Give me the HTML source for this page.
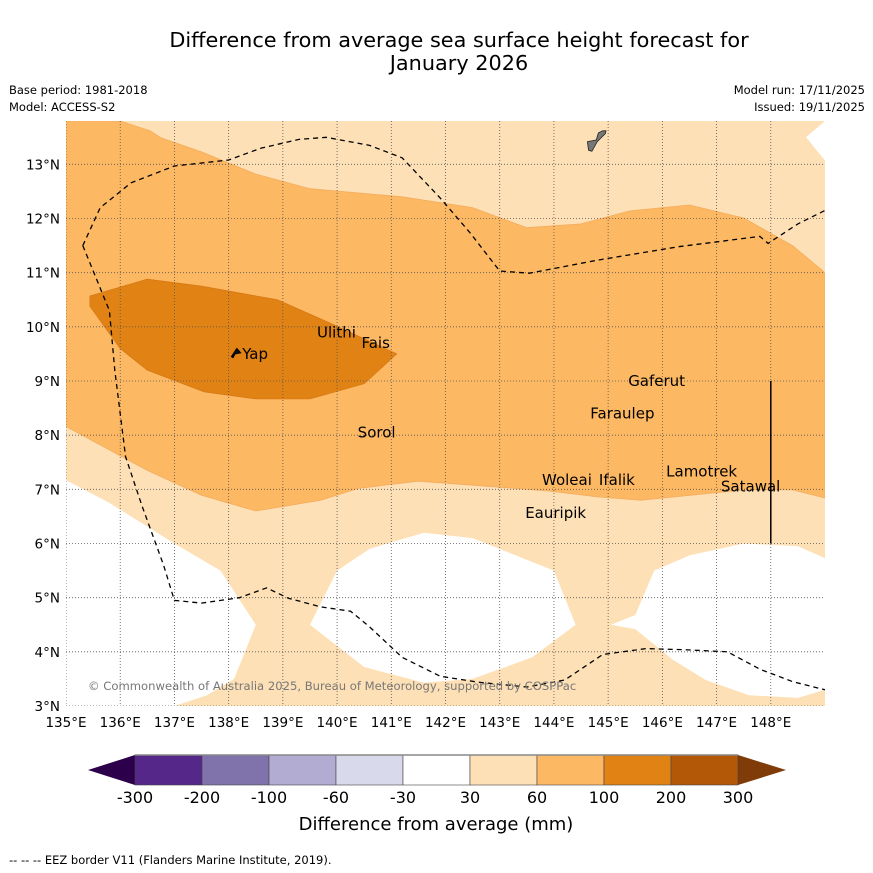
<!DOCTYPE html>
<html><head><meta charset="utf-8"><style>
body{margin:0;background:#fff;font-family:"Liberation Sans","DejaVu Sans",sans-serif;}
#wrap{position:relative;width:873px;height:873px;overflow:hidden;background:#fff}
.t{position:absolute;white-space:nowrap}
</style></head><body>
<div id="wrap">
<div class="t" style="left:0;width:918px;top:29px;text-align:center;font-size:20.8px;line-height:23px;font-family:'DejaVu Sans',sans-serif">Difference from average sea surface height forecast for<br>January 2026</div>
<div class="t" style="left:9px;top:83px;font-size:11.5px;font-family:'DejaVu Sans',sans-serif">Base period: 1981-2018</div>
<div class="t" style="left:9px;top:100px;font-size:11.5px;font-family:'DejaVu Sans',sans-serif">Model: ACCESS-S2</div>
<div class="t" style="right:8px;top:83px;font-size:11.5px;font-family:'DejaVu Sans',sans-serif">Model run: 17/11/2025</div>
<div class="t" style="right:8px;top:100px;font-size:11.5px;font-family:'DejaVu Sans',sans-serif">Issued: 19/11/2025</div>
<div class="t" style="left:9px;top:853px;font-size:11.5px;font-family:'DejaVu Sans',sans-serif">--  --  -- EEZ border V11 (Flanders Marine Institute, 2019).</div>
<svg id="svg" width="873" height="873" style="position:absolute;left:0;top:0" font-family="DejaVu Sans, sans-serif"></svg>
</div>
<script>
const lonTicks=[135,136,137,138,139,140,141,142,143,144,145,146,147,148];
const latTicks=[3,4,5,6,7,8,9,10,11,12,13];
const cbBounds=[-300,-200,-100,-60,-30,30,60,100,200,300];
const cbColors=['#542788','#8073ac','#b2abd2','#d8daeb','#ffffff','#fee0b6','#fdb863','#e08214','#b35806'];
const cbLow='#2d004b', cbHigh='#7f3b08';
const mediumZone=[[135,13.8],[136,13.8],[136.55,13.62],[136.75,13.49],[137.5,13.23],[138.5,12.82],[139.5,12.55],[141.2,12.4],[142.5,12.2],[143.5,11.83],[144.5,11.9],[145.4,12.14],[146.5,12.25],[147.5,12.01],[148.4,11.5],[149,11.0],[149,6.84],[148.4,6.99],[147.5,6.99],[146.6,6.9],[145.6,6.8],[144.8,6.86],[143.9,6.97],[143,7.04],[141.5,7.15],[140.4,7.02],[139.7,6.8],[138.5,6.6],[137.5,6.89],[136.5,7.35],[135,8.16]];
const highZone=[[135.44,10.57],[136.5,10.88],[137.5,10.75],[138.9,10.5],[139.8,10.1],[141.1,9.5],[140.5,8.95],[139.5,8.67],[138.5,8.67],[137.55,8.8],[136.5,9.2],[136,9.6],[135.44,10.38]];
const whiteZones=[
[[135,7.17],[135.8,6.75],[137,6.0],[137.85,5.5],[138.5,4.5],[138.1,3.5],[137.6,3.2],[137,3],[135,3]],
[[140,5.5],[140.6,5.9],[141.6,6.2],[142.5,6.1],[144,5.5],[144.4,4.5],[143.6,3.9],[142.5,3.5],[141.6,3.43],[140.5,3.72],[139.5,4.5]],
[[145.05,4.5],[145.5,4.68],[145.85,5.5],[146.5,5.78],[147.5,6.0],[148.5,5.95],[149,5.73],[149,3.3],[148.5,3.15],[147.6,3.2],[146.8,3.48],[146.2,3.85],[145.5,4.42]],
[[149,13.8],[148.65,13.5],[149,13.07]]];
const eezA=[[135.31,11.5],[135.63,12.2],[136.2,12.66],[137,12.97],[138,13.08],[138.6,13.3],[139.3,13.46],[139.8,13.5],[140.6,13.35],[141.2,13.12],[141.9,12.38],[142.45,11.74],[143,11.03],[143.55,10.99],[144.8,11.23],[146.3,11.48],[147.8,11.67],[147.95,11.54],[148.5,11.9],[149,12.15]];
const eezB=[[135.31,11.5],[135.8,10.3],[135.9,9.2],[136.1,7.6],[136.4,6.7],[136.8,5.6],[137,4.95],[137.5,4.9],[138.2,5.0],[138.7,5.18],[139.1,4.99],[139.7,4.83],[140.25,4.75],[140.6,4.46],[141.2,3.9],[141.9,3.55],[142.6,3.44],[143.5,3.35],[144.2,3.48],[144.9,3.95],[145.7,4.06],[146.4,4.04],[147.2,4.0],[147.8,3.68],[148.4,3.45],[149,3.3]];
const islands=[["Ulithi",139.63,9.9],["Fais",140.45,9.7],["Yap",138.25,9.5],["Gaferut",145.37,9.0],["Faraulep",144.67,8.4],["Sorol",140.38,8.05],["Woleai",143.78,7.17],["Ifalik",144.83,7.17],["Lamotrek",146.07,7.33],["Satawal",147.08,7.05],["Eauripik",143.47,6.56]];
const guam=[[144.62,13.42],[144.78,13.45],[144.82,13.58],[144.9,13.62],[144.96,13.62],[144.95,13.57],[144.8,13.42],[144.7,13.24],[144.64,13.26],[144.62,13.4]];
const yapShape=[[138.05,9.45],[138.15,9.6],[138.22,9.52],[138.12,9.5],[138.08,9.43]];

const X0=66,X1=825,Y0=121,Y1=706,LON0=135,LON1=149,LAT0=3,LAT1=13.8;
const X=lon=>X0+(lon-LON0)*(X1-X0)/(LON1-LON0);
const Y=lat=>Y1-(lat-LAT0)*(Y1-Y0)/(LAT1-LAT0);
const svg=document.getElementById('svg');
const NS='http://www.w3.org/2000/svg';
function mk(tag,attrs,parent){const e=document.createElementNS(NS,tag);for(const k in attrs)e.setAttribute(k,attrs[k]);(parent||svg).appendChild(e);return e;}
const pts=a=>a.map(p=>X(p[0]).toFixed(1)+','+Y(p[1]).toFixed(1)).join(' ');
const cp=mk('clipPath',{id:'mc'});mk('rect',{x:X0,y:Y0,width:X1-X0,height:Y1-Y0},cp);
const g=mk('g',{'clip-path':'url(#mc)'});


let r=mk('rect',{x:X0,y:Y0,width:X1-X0,height:Y1-Y0,fill:cbColors[5]},g);


let p=mk('polygon',{points:pts(mediumZone),fill:cbColors[6],stroke:'#f3ad5e','stroke-width':0.8},g);


p=mk('polygon',{points:pts(highZone),fill:cbColors[7],stroke:'#d77a15','stroke-width':0.8},g);


whiteZones.forEach(w=>{const q=mk('polygon',{points:pts(w),fill:'#fff'},g);

});
lonTicks.forEach(l=>{const ln=mk('line',{x1:X(l),x2:X(l),y1:Y0,y2:Y1,stroke:'#555','stroke-width':0.8,'stroke-dasharray':'1,2'},g);

});
latTicks.forEach(l=>{const ln=mk('line',{x1:X0,x2:X1,y1:Y(l),y2:Y(l),stroke:'#555','stroke-width':0.8,'stroke-dasharray':'1,2'},g);

});
[eezA,eezB].forEach(e=>{const q=mk('polyline',{points:pts(e),fill:'none',stroke:'#000','stroke-width':1.3,'stroke-dasharray':'5,4'},g);

});
let v=mk('line',{x1:X(148),x2:X(148),y1:Y(9),y2:Y(6),stroke:'#000','stroke-width':1.5},g);


let gu=mk('polygon',{points:pts(guam),fill:'#777',stroke:'#222','stroke-width':0.8},g);


let ys=mk('polygon',{points:pts(yapShape),fill:'#111',stroke:'#000','stroke-width':1},g);


islands.forEach(i=>{const t=mk('text',{x:X(i[1]),y:Y(i[2])+5,'font-size':15,fill:'#000'},g);t.textContent=i[0];

});
let cr=mk('text',{x:88,y:690,'font-size':11.6,fill:'#777'},g);cr.textContent='© Commonwealth of Australia 2025, Bureau of Meteorology, supported by COSPPac';


lonTicks.forEach(l=>{const t=mk('text',{x:X(l),y:727,'font-size':13.5,'text-anchor':'middle'});t.textContent=l+'°E';

});
latTicks.forEach(l=>{const t=mk('text',{x:60,y:Y(l)+5,'font-size':13.5,'text-anchor':'end'});t.textContent=l+'°N';

});
const CB0=135,CB1=738,CBT=755,CBB=785,bw=(CB1-CB0)/cbColors.length;
let tl=mk('polygon',{points:`88,770 ${CB0},${CBT} ${CB0},${CBB}`,fill:cbLow});


let th=mk('polygon',{points:`786,770 ${CB1},${CBT} ${CB1},${CBB}`,fill:cbHigh});


cbColors.forEach((c,i)=>{const b=mk('rect',{x:CB0+i*bw,y:CBT,width:bw,height:CBB-CBT,fill:c,stroke:'#444','stroke-width':0.6});

});
mk('line',{x1:CB0,x2:CB1,y1:CBT,y2:CBT,stroke:'#888','stroke-width':1.5});
cbBounds.forEach((b,i)=>{const t=mk('text',{x:CB0+i*bw,y:803,'font-size':16,'text-anchor':'middle'});t.textContent=b;

});
let ct=mk('text',{x:436,y:830,'font-size':18,'text-anchor':'middle'});ct.textContent='Difference from average (mm)';


</script>
</body></html>
